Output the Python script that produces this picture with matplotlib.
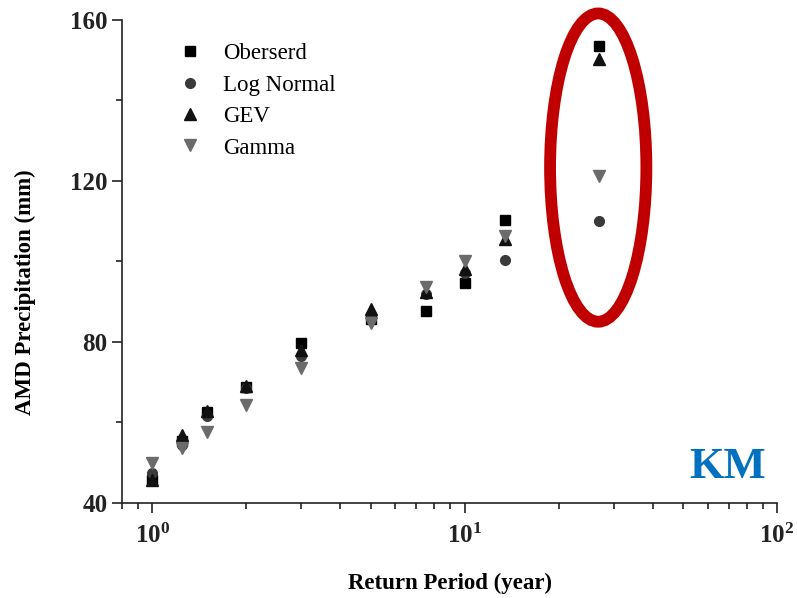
# Return period vs AMD precipitation, station KM
import matplotlib
matplotlib.use('Agg')
import matplotlib.pyplot as plt
from matplotlib.patches import Ellipse
from matplotlib.ticker import MultipleLocator, LogLocator, NullFormatter, FuncFormatter
import numpy as np

plt.rcParams['font.family'] = ['Liberation Serif', 'DejaVu Serif']
plt.rcParams['mathtext.fontset'] = 'custom'
plt.rcParams['mathtext.rm'] = 'Liberation Serif:bold'
plt.rcParams['mathtext.bf'] = 'Liberation Serif:bold'

# Datos
periodo = [1.0, 1.25, 1.5, 2.0, 3.0, 5.0, 7.5, 10.0, 13.5, 27.0]
observado = [45.8, 55.5, 62.6, 68.8, 79.8, 85.6, 87.7, 94.7, 110.3, 153.5]
log_normal = [47.5, 54.4, 61.6, 68.6, 76.6, 85.8, 91.8, 97.2, 100.4, 109.9]
gev = [45.7, 56.8, 62.9, 69.0, 78.0, 88.2, 92.5, 98.1, 105.5, 150.2]
gamma = [49.9, 53.6, 57.6, 64.3, 73.6, 84.8, 93.7, 100.0, 106.2, 121.1]

fig = plt.figure(figsize=(7.97, 5.98), dpi=100)
ax = fig.add_axes([0.153, 0.159, 0.822, 0.808])

ax.plot(periodo, observado, 's', color='black', markersize=6.5, label='Oberserd')
ax.plot(periodo, log_normal, 'o', color='#3a3a3a', markersize=7, label='Log Normal')
ax.plot(periodo, gev, '^', color='#111111', markersize=8, label='GEV')
ax.plot(periodo, gamma, 'v', color='#6b6b6b', markersize=8, label='Gamma')

ax.set_xscale('log')
ax.set_xlim(0.8, 100)
ax.set_ylim(40, 160)
ax.yaxis.set_major_locator(MultipleLocator(40))
ax.yaxis.set_minor_locator(MultipleLocator(20))
ax.xaxis.set_major_locator(LogLocator(base=10, numticks=5))
ax.xaxis.set_minor_locator(LogLocator(base=10, subs=range(2, 10), numticks=20))
ax.xaxis.set_minor_formatter(NullFormatter())
ax.xaxis.set_major_formatter(FuncFormatter(lambda v, p: r'$\mathbf{10^{%d}}$' % round(np.log10(v))))

for s in ['top', 'right']:
    ax.spines[s].set_visible(False)
for s in ['left', 'bottom']:
    ax.spines[s].set_linewidth(1.2)
    ax.spines[s].set_color('#222222')

ax.tick_params(which='major', direction='out', length=7, width=1.2, labelsize=18, colors='#222222')
ax.tick_params(which='minor', direction='out', length=4, width=1.2, colors='#222222')
for lab in ax.get_yticklabels():
    lab.set_fontweight('bold')
ax.tick_params(axis='x', which='major', pad=8)

ax.set_xlabel('Return Period (year)', fontsize=16.5, fontweight='bold', labelpad=18)
ax.set_ylabel('AMD Precipitation (mm)', fontsize=16.5, fontweight='bold')
ax.yaxis.set_label_coords(-0.131, 0.437)

leg = ax.legend(loc='upper left', bbox_to_anchor=(0.055, 0.97), frameon=False,
                fontsize=16.5, handletextpad=0.45, labelspacing=0.45, borderaxespad=0)

# Elipse roja resaltando el último periodo
elipse = Ellipse((0.727, 0.694), 0.147, 0.638, transform=ax.transAxes, fill=False,
                 edgecolor='#C00000', linewidth=8.5, clip_on=False)
ax.add_patch(elipse)

ax.text(0.925, 0.075, 'KM', transform=ax.transAxes, color='#0070C0', fontsize=32,
        fontweight='bold', ha='center', va='center')

fig.savefig('out.png', dpi=100)
